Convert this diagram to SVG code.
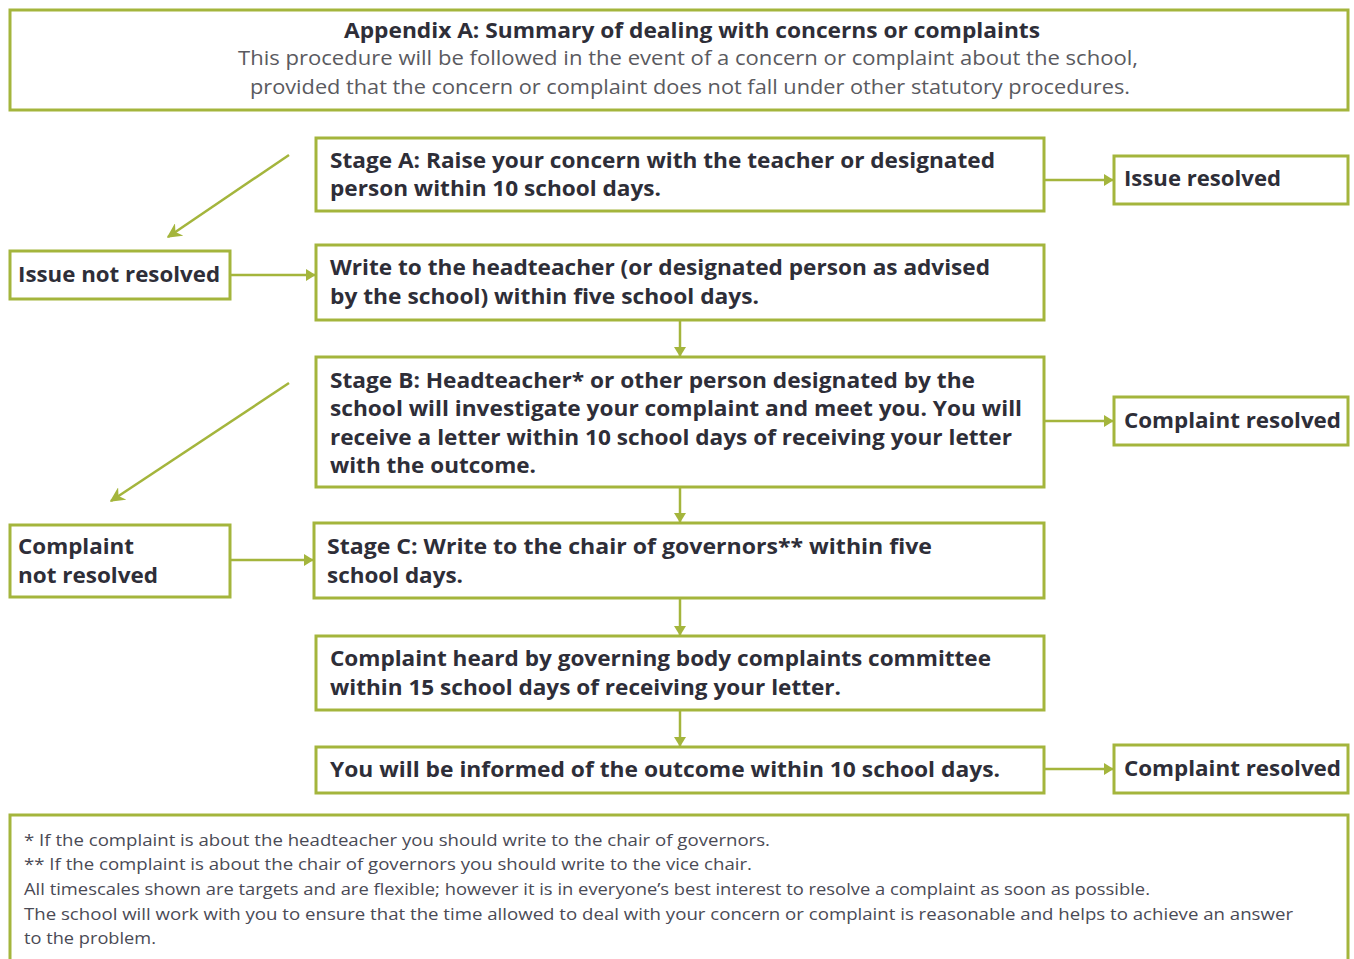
<svg xmlns="http://www.w3.org/2000/svg" width="1354" height="959" viewBox="0 0 1354 959">
<style>
.box{fill:#fff;stroke:#a4b53c;stroke-width:3}
.t{font-family:"Open Sans","Noto Sans","Liberation Sans",sans-serif;font-weight:bold;font-size:22px;fill:#2e2e38}
.s{font-family:"Open Sans","Noto Sans","Liberation Sans",sans-serif;font-size:20px;fill:#5a5a60}
.f{font-family:"Open Sans","Noto Sans","Liberation Sans",sans-serif;font-size:17px;fill:#4a4a55}
.c{stroke:#a4b53c;stroke-width:2.5;fill:none;marker-end:url(#ah)}
.d{stroke:#a4b53c;stroke-width:2.5;fill:none;marker-end:url(#ad)}
</style>
<defs>
<marker id="ah" viewBox="0 0 8 10" refX="7.5" refY="5" markerWidth="4" markerHeight="5" markerUnits="strokeWidth" orient="auto">
<path d="M0,0 L8,5 L0,10 z" fill="#a4b53c"/>
</marker>
<marker id="ad" viewBox="0 0 10 10" refX="9" refY="5" markerWidth="6" markerHeight="6" markerUnits="strokeWidth" orient="auto">
<path d="M0,0 L10,5 L0,10 L3,5 z" fill="#a4b53c"/>
</marker>
</defs>
<rect width="1354" height="959" fill="#fff"/>

<g id="header">
<rect class="box" x="10" y="10" width="1338" height="100"/>
<text class="t" x="344" y="38" textLength="696" lengthAdjust="spacingAndGlyphs">Appendix A: Summary of dealing with concerns or complaints</text>
<text class="s" x="238" y="65" textLength="900" lengthAdjust="spacingAndGlyphs">This procedure will be followed in the event of a concern or complaint about the school,</text>
<text class="s" x="250" y="94" textLength="880" lengthAdjust="spacingAndGlyphs">provided that the concern or complaint does not fall under other statutory procedures.</text>
</g>

<g id="connectors">
<line class="c" x1="1044" y1="180" x2="1113" y2="180"/>
<line class="d" x1="289" y1="155" x2="168" y2="237"/>
<line class="c" x1="230" y1="275" x2="315" y2="275"/>
<line class="c" x1="680" y1="320" x2="680" y2="356"/>
<line class="c" x1="1044" y1="421" x2="1113" y2="421"/>
<line class="d" x1="289" y1="383" x2="111" y2="501"/>
<line class="c" x1="680" y1="487" x2="680" y2="522"/>
<line class="c" x1="230" y1="560" x2="313" y2="560"/>
<line class="c" x1="680" y1="598" x2="680" y2="635"/>
<line class="c" x1="680" y1="710" x2="680" y2="746"/>
<line class="c" x1="1044" y1="769" x2="1113" y2="769"/>
</g>

<g id="stageA">
<rect class="box" x="316" y="138" width="728" height="73"/>
<text class="t" x="330" y="168" textLength="665" lengthAdjust="spacingAndGlyphs">Stage  A: Raise your concern with the teacher or designated</text>
<text class="t" x="330" y="196" textLength="331" lengthAdjust="spacingAndGlyphs">person within 10 school days.</text>
</g>

<g id="issueResolved">
<rect class="box" x="1114" y="156" width="234" height="48"/>
<text class="t" x="1124" y="186" textLength="157" lengthAdjust="spacingAndGlyphs">Issue resolved</text>
</g>

<g id="issueNotResolved">
<rect class="box" x="10" y="251" width="220" height="48"/>
<text class="t" x="18" y="282" textLength="202" lengthAdjust="spacingAndGlyphs">Issue not resolved</text>
</g>

<g id="writeHead">
<rect class="box" x="316" y="245" width="728" height="75"/>
<text class="t" x="330" y="275" textLength="660" lengthAdjust="spacingAndGlyphs">Write to the headteacher (or designated person as advised</text>
<text class="t" x="330" y="304" textLength="429" lengthAdjust="spacingAndGlyphs">by the school) within five school days.</text>
</g>

<g id="stageB">
<rect class="box" x="316" y="357" width="728" height="130"/>
<text class="t" x="330" y="388" textLength="645" lengthAdjust="spacingAndGlyphs">Stage B: Headteacher* or other person designated by the</text>
<text class="t" x="330" y="416" textLength="692" lengthAdjust="spacingAndGlyphs">school will investigate your complaint and meet you. You will</text>
<text class="t" x="330" y="445" textLength="682" lengthAdjust="spacingAndGlyphs">receive a letter within 10 school days of receiving your letter</text>
<text class="t" x="330" y="473" textLength="206" lengthAdjust="spacingAndGlyphs">with the outcome.</text>
</g>

<g id="complaintResolved1">
<rect class="box" x="1114" y="397" width="234" height="48"/>
<text class="t" x="1124" y="428" textLength="217" lengthAdjust="spacingAndGlyphs">Complaint resolved</text>
</g>

<g id="complaintNotResolved">
<rect class="box" x="10" y="525" width="220" height="72"/>
<text class="t" x="18" y="554" textLength="116" lengthAdjust="spacingAndGlyphs">Complaint</text>
<text class="t" x="18" y="583" textLength="140" lengthAdjust="spacingAndGlyphs">not resolved</text>
</g>

<g id="stageC">
<rect class="box" x="314" y="523" width="730" height="75"/>
<text class="t" x="327" y="554" textLength="605" lengthAdjust="spacingAndGlyphs">Stage C: Write to the chair of governors** within five</text>
<text class="t" x="327" y="583" textLength="136" lengthAdjust="spacingAndGlyphs">school days.</text>
</g>

<g id="committee">
<rect class="box" x="316" y="636" width="728" height="74"/>
<text class="t" x="330" y="666" textLength="661" lengthAdjust="spacingAndGlyphs">Complaint heard by governing body complaints committee</text>
<text class="t" x="330" y="695" textLength="511" lengthAdjust="spacingAndGlyphs">within 15 school days of receiving your letter.</text>
</g>

<g id="informed">
<rect class="box" x="316" y="747" width="728" height="46"/>
<text class="t" x="330" y="777" textLength="670" lengthAdjust="spacingAndGlyphs">You will be informed of the outcome within 10 school days.</text>
</g>

<g id="complaintResolved2">
<rect class="box" x="1114" y="745" width="234" height="48"/>
<text class="t" x="1124" y="776" textLength="217" lengthAdjust="spacingAndGlyphs">Complaint resolved</text>
</g>

<g id="footnotes">
<rect class="box" x="10" y="815" width="1338" height="160"/>
<text class="f" x="24" y="846" textLength="746" lengthAdjust="spacingAndGlyphs">* If the complaint is about the headteacher you should write to the chair of governors.</text>
<text class="f" x="24" y="870" textLength="728" lengthAdjust="spacingAndGlyphs">** If the complaint is about the chair of governors you should write to the vice chair.</text>
<text class="f" x="24" y="895" textLength="1126" lengthAdjust="spacingAndGlyphs">All timescales shown are targets and are flexible; however it is in everyone’s best interest to resolve a complaint as soon as possible.</text>
<text class="f" x="24" y="920" textLength="1269" lengthAdjust="spacingAndGlyphs">The school will work with you to ensure that the time allowed to deal with your concern or complaint is reasonable and helps to achieve an answer</text>
<text class="f" x="24" y="944" textLength="132" lengthAdjust="spacingAndGlyphs">to the problem.</text>
</g>
</svg>
